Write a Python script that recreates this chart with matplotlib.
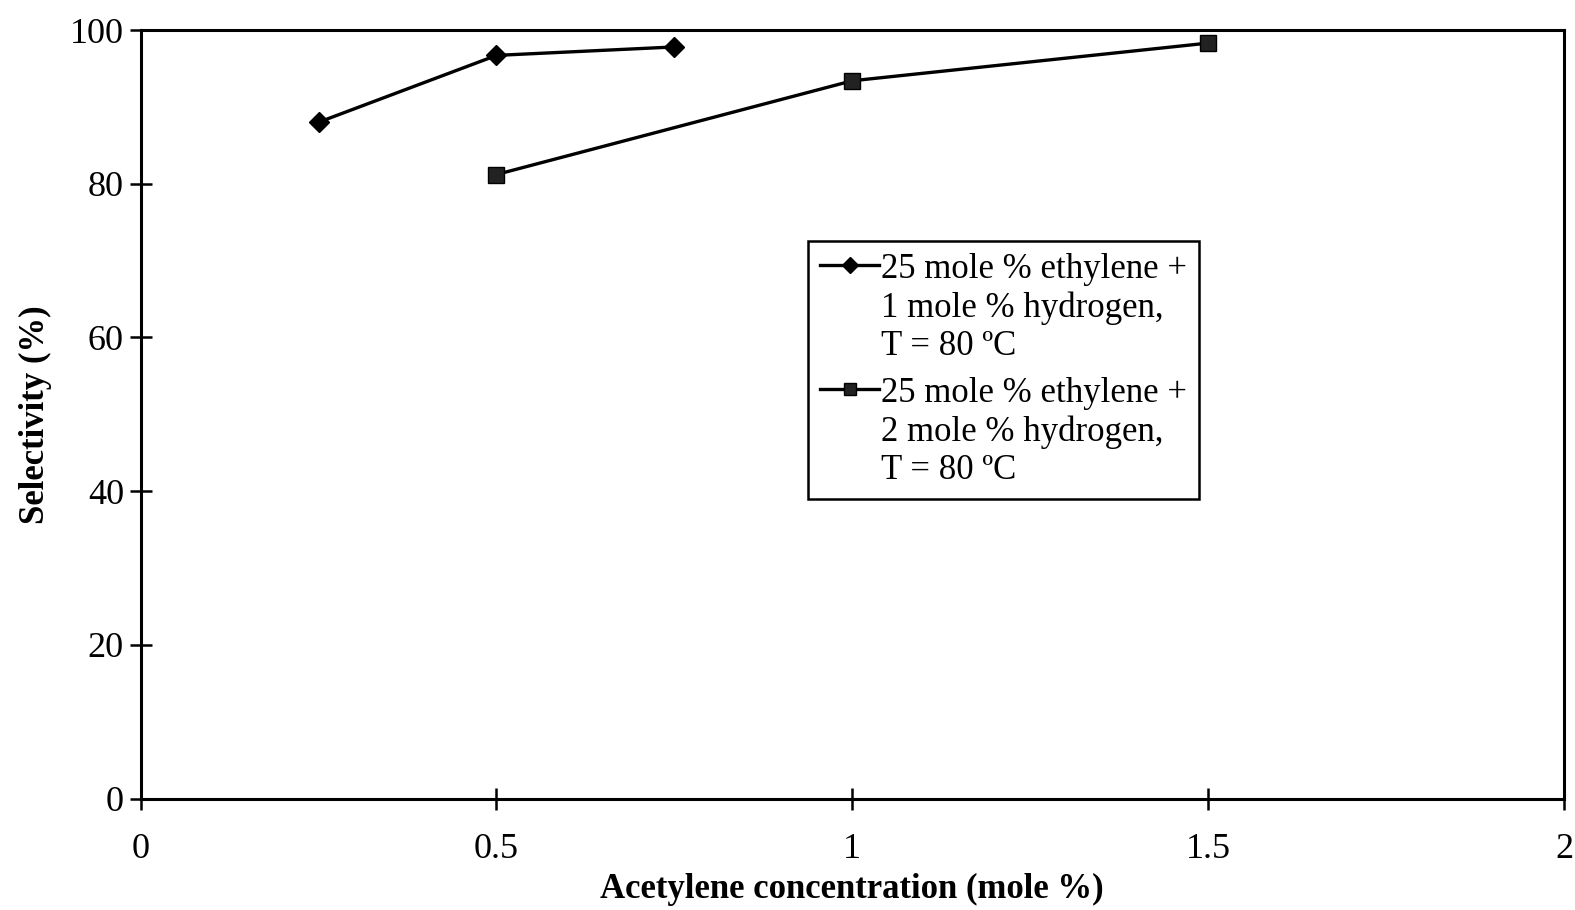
import matplotlib
matplotlib.use("Agg")
import matplotlib.pyplot as plt

# Acetylene concentration (mole %) and selectivity (%) for each feed
x_h1 = [0.25, 0.5, 0.75]
sel_h1 = [88.0, 96.7, 97.8]
x_h2 = [0.5, 1.0, 1.5]
sel_h2 = [81.2, 93.4, 98.3]

label_h1 = "25 mole % ethylene +\n1 mole % hydrogen,\nT = 80 \u00baC"
label_h2 = "25 mole % ethylene +\n2 mole % hydrogen,\nT = 80 \u00baC"

x_ticks = [0, 0.5, 1, 1.5, 2]
x_ticklabels = ["0", "0.5", "1", "1.5", "2"]
y_ticks = [0, 20, 40, 60, 80, 100]

plt.rcParams["font.family"] = ["Liberation Serif", "DejaVu Serif"]

fig = plt.figure(figsize=(15.75, 9.10), dpi=100)
ax = fig.add_axes([0.0893, 0.1225, 0.9037, 0.8445])

ax.plot(x_h1, sel_h1, color="black", lw=2.4, marker="D", markersize=10,
        markerfacecolor="black", markeredgecolor="black", label=label_h1)
ax.plot(x_h2, sel_h2, color="black", lw=2.4, marker="s", markersize=11,
        markerfacecolor="#222222", markeredgecolor="black", label=label_h2)

ax.set_xlim(0, 2)
ax.set_ylim(0, 100)
ax.set_xticks(x_ticks)
ax.set_xticklabels(x_ticklabels)
ax.set_yticks(y_ticks)

for side in ["left", "right", "top", "bottom"]:
    ax.spines[side].set_linewidth(2.2)
    ax.spines[side].set_color("black")

ax.tick_params(axis="both", direction="inout", length=16, width=1.8,
               labelsize=26, colors="black")
ax.tick_params(axis="x", pad=17)
ax.tick_params(axis="y", pad=4)

ax.set_xlabel("Acetylene concentration (mole %)", fontsize=25,
              fontweight="bold", labelpad=5)
ax.set_ylabel("Selectivity (%)", fontsize=25, fontweight="bold", labelpad=13)

leg = ax.legend(loc="upper left", bbox_to_anchor=(0.469, 0.7255),
                fontsize=25, frameon=True, fancybox=False, framealpha=1,
                edgecolor="black", handlelength=1.7, handletextpad=0.05,
                borderpad=0.35, labelspacing=0.42, markerscale=0.8,
                borderaxespad=0)
leg.get_frame().set_linewidth(1.8)
for t in leg.get_texts():
    t.set_linespacing(1.2)
# put each legend key beside the first line of its label
for col in leg._legend_handle_box.get_children():
    for row in col.get_children():
        row.align = "top"

fig.savefig("out.png", dpi=100, facecolor="white")
